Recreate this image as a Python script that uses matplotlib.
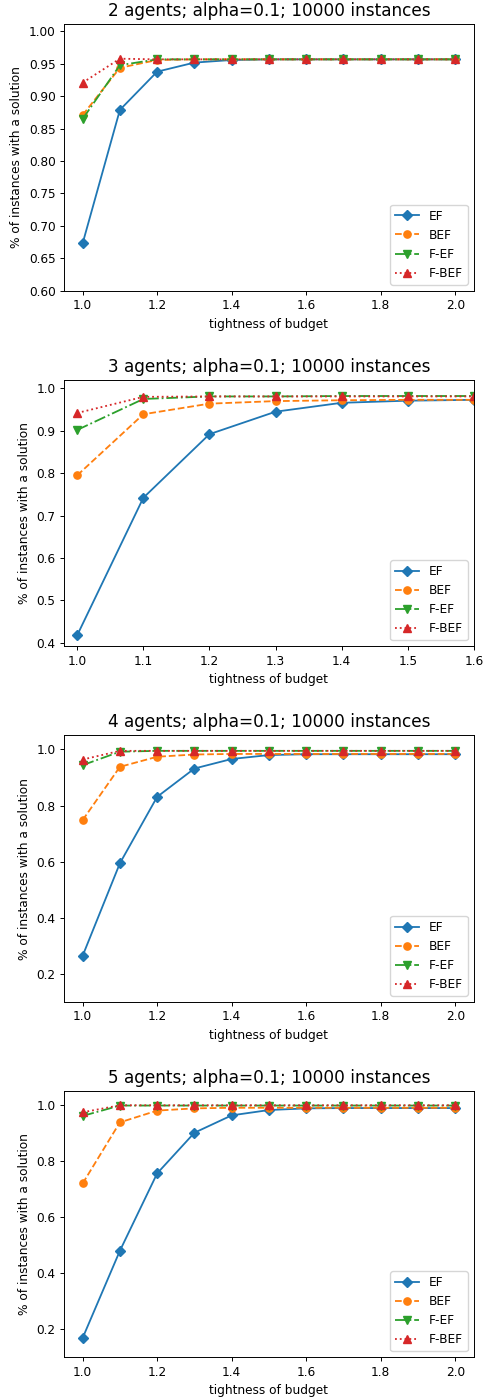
import numpy as np
import matplotlib
matplotlib.use("Agg")
import matplotlib.pyplot as plt

budgets = [1.0, 1.1, 1.2, 1.3, 1.4, 1.5, 1.6, 1.7, 1.8, 1.9, 2.0]
agents = [2, 3, 4, 5]
labels = ["EF", "BEF", "F-EF", "F-BEF"]
styles = ["D-", "o--", "v-.", "^:"]

# 2 agents
ef_2 = [0.673, 0.879, 0.938, 0.952, 0.956, 0.957, 0.957, 0.957, 0.957, 0.957, 0.957]
bef_2 = [0.871, 0.944, 0.956, 0.957, 0.957, 0.957, 0.957, 0.957, 0.957, 0.957, 0.957]
fef_2 = [0.865, 0.948, 0.957, 0.957, 0.957, 0.957, 0.957, 0.957, 0.957, 0.957, 0.957]
fbef_2 = [0.921, 0.958, 0.957, 0.957, 0.957, 0.957, 0.957, 0.957, 0.957, 0.957, 0.957]

# 3 agents
ef_3 = [0.418, 0.742, 0.892, 0.945, 0.966, 0.971, 0.973, 0.973, 0.973, 0.973, 0.973]
bef_3 = [0.795, 0.939, 0.964, 0.970, 0.972, 0.973, 0.973, 0.973, 0.973, 0.973, 0.973]
fef_3 = [0.902, 0.975, 0.981, 0.981, 0.982, 0.982, 0.982, 0.982, 0.982, 0.982, 0.982]
fbef_3 = [0.942, 0.980, 0.981, 0.981, 0.981, 0.981, 0.981, 0.981, 0.981, 0.981, 0.981]

# 4 agents
ef_4 = [0.264, 0.594, 0.831, 0.932, 0.966, 0.980, 0.983, 0.983, 0.983, 0.983, 0.983]
bef_4 = [0.748, 0.938, 0.974, 0.982, 0.984, 0.984, 0.984, 0.984, 0.984, 0.984, 0.984]
fef_4 = [0.944, 0.992, 0.995, 0.995, 0.995, 0.995, 0.995, 0.995, 0.995, 0.995, 0.995]
fbef_4 = [0.964, 0.995, 0.995, 0.995, 0.995, 0.995, 0.995, 0.995, 0.995, 0.995, 0.995]

# 5 agents
ef_5 = [0.169, 0.480, 0.756, 0.901, 0.963, 0.982, 0.988, 0.989, 0.989, 0.989, 0.989]
bef_5 = [0.720, 0.938, 0.980, 0.988, 0.990, 0.990, 0.990, 0.990, 0.990, 0.990, 0.990]
fef_5 = [0.961, 0.998, 0.998, 0.998, 0.998, 0.998, 0.998, 0.998, 0.998, 0.998, 0.998]
fbef_5 = [0.974, 0.999, 0.999, 0.999, 0.999, 0.999, 0.999, 0.999, 0.999, 0.999, 0.999]

results = {
    2: [ef_2, bef_2, fef_2, fbef_2],
    3: [ef_3, bef_3, fef_3, fbef_3],
    4: [ef_4, bef_4, fef_4, fbef_4],
    5: [ef_5, bef_5, fef_5, fbef_5],
}

xlims = {2: None, 3: (0.98, 1.6), 4: None, 5: None}
ylims = {2: (0.6, 1.011), 3: (0.392, 1.02), 4: (0.1, 1.05), 5: (0.1, 1.05)}

# the original looks like a bigger figure shrunk by ~0.87
s = 0.87
plt.rcParams.update({
    "font.size": 10 * s,
    "axes.titlesize": 14 * s,
    "lines.linewidth": 1.5 * s,
    "lines.markersize": 6 * s,
    "axes.linewidth": 0.8 * s,
    "xtick.major.size": 3.5 * s,
    "ytick.major.size": 3.5 * s,
    "xtick.major.width": 0.8 * s,
    "ytick.major.width": 0.8 * s,
    "xtick.major.pad": 3.5 * s,
    "ytick.major.pad": 3.5 * s,
})

fig, axes = plt.subplots(4, 1, figsize=(4.86, 14), dpi=100)
fig.subplots_adjust(left=0.1317, right=0.975, top=0.9826, bottom=0.0305, hspace=0.335)

for ax, n in zip(axes, agents):
    for series, label, st in zip(results[n], labels, styles):
        ax.plot(budgets, series, st, label=label)
    ax.set_title("{0} agents; alpha=0.1; 10000 instances".format(n))
    ax.set_xlabel("tightness of budget")
    ax.set_ylabel("% of instances with a solution")
    if xlims[n] is not None:
        ax.set_xlim(*xlims[n])
    ax.set_ylim(*ylims[n])
    ax.legend(loc="lower right")

fig.savefig("out.png")
